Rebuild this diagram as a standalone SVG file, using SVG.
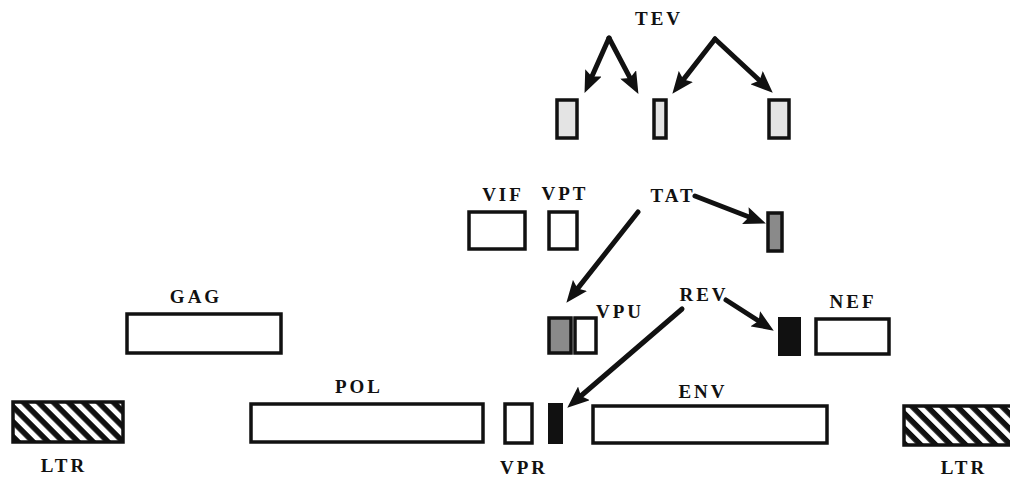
<svg xmlns="http://www.w3.org/2000/svg" width="1010" height="478" viewBox="0 0 1010 478">
<style>
text{font-family:"Liberation Serif","Times New Roman",serif;font-weight:bold;font-size:19px;letter-spacing:3px;fill:#111;text-anchor:middle}
.box{fill:#fff;stroke:#111;stroke-width:3.5}
.lt{fill:#e4e4e4;stroke:#111;stroke-width:3.5}
.dk{fill:#8a8a8a;stroke:#111;stroke-width:3.5}
.blk{fill:#111;stroke:#111;stroke-width:2}
.ltr{fill:url(#hatch);stroke:#111;stroke-width:3.5}
.arr{stroke:#111;stroke-width:5;stroke-linecap:round;fill:none;marker-end:url(#ah)}
</style>
<defs>
<marker id="ah" markerUnits="userSpaceOnUse" viewBox="0 0 22 18" refX="11" refY="9" markerWidth="22" markerHeight="18" orient="auto">
<path d="M0,0 L22,9 L0,18 L4,9 Z" fill="#111"/>
</marker>
<pattern id="hatch" patternUnits="userSpaceOnUse" width="10.6" height="10.6" patternTransform="rotate(-45)">
<rect width="10.6" height="10.6" fill="#111"/>
<rect x="0" width="5" height="10.6" fill="#fff"/>
</pattern>
</defs>
<g id="tev"><text x="659" y="25">TEV</text></g>
<g id="tev-exon1"><rect class="lt" x="557" y="100" width="20" height="38"/></g>
<g id="tev-exon2"><rect class="lt" x="654" y="100" width="12" height="38"/></g>
<g id="tev-exon3"><rect class="lt" x="769" y="100" width="20" height="38"/></g>
<g id="vif"><text x="503" y="201">VIF</text><rect class="box" x="469" y="212" width="56" height="37"/></g>
<g id="vpt"><text x="565" y="200">VPT</text><rect class="box" x="549" y="212" width="28" height="37"/></g>
<g id="tat"><text x="673" y="202">TAT</text></g>
<g id="tat-exon"><rect class="dk" x="768" y="213" width="14" height="38"/></g>
<g id="gag"><text x="196" y="303">GAG</text><rect class="box" x="127" y="314" width="154" height="39"/></g>
<g id="vpu"><text x="620" y="318">VPU</text><rect class="dk" x="549" y="318" width="22" height="35"/><rect class="box" x="575" y="318" width="21" height="35"/></g>
<g id="rev"><text x="704" y="301">REV</text></g>
<g id="rev-exon1"><rect class="blk" x="779" y="318" width="21" height="37"/></g>
<g id="nef"><text x="853" y="308">NEF</text><rect class="box" x="816" y="319" width="73" height="35"/></g>
<g id="ltr-left"><rect class="ltr" x="13" y="402" width="110" height="40"/><text x="64" y="472">LTR</text></g>
<g id="pol"><text x="359" y="393">POL</text><rect class="box" x="251" y="404" width="232" height="38"/></g>
<g id="vpr"><rect class="box" x="505" y="404" width="27" height="39"/><text x="524" y="474">VPR</text></g>
<g id="rev-exon2"><rect class="blk" x="549" y="404" width="13" height="39"/></g>
<g id="env"><text x="703" y="398">ENV</text><rect class="box" x="593" y="406" width="234" height="37"/></g>
<g id="ltr-right"><rect class="ltr" x="904" y="406" width="110" height="39"/><text x="964" y="474">LTR</text></g>
<g id="connectors">
<line class="arr" x1="609" y1="38" x2="589" y2="83"/>
<line class="arr" x1="609" y1="38" x2="633.3" y2="84.2"/>
<line class="arr" x1="715" y1="39" x2="679.1" y2="85.1"/>
<line class="arr" x1="715" y1="39" x2="764.7" y2="85.2"/>
<line class="arr" x1="695" y1="196" x2="755.6" y2="219.5"/>
<line class="arr" x1="638" y1="212" x2="573.2" y2="294.1"/>
<line class="arr" x1="726" y1="300" x2="764.5" y2="324.7"/>
<line class="arr" x1="682" y1="309" x2="575.6" y2="400.5"/>
</g>
</svg>
